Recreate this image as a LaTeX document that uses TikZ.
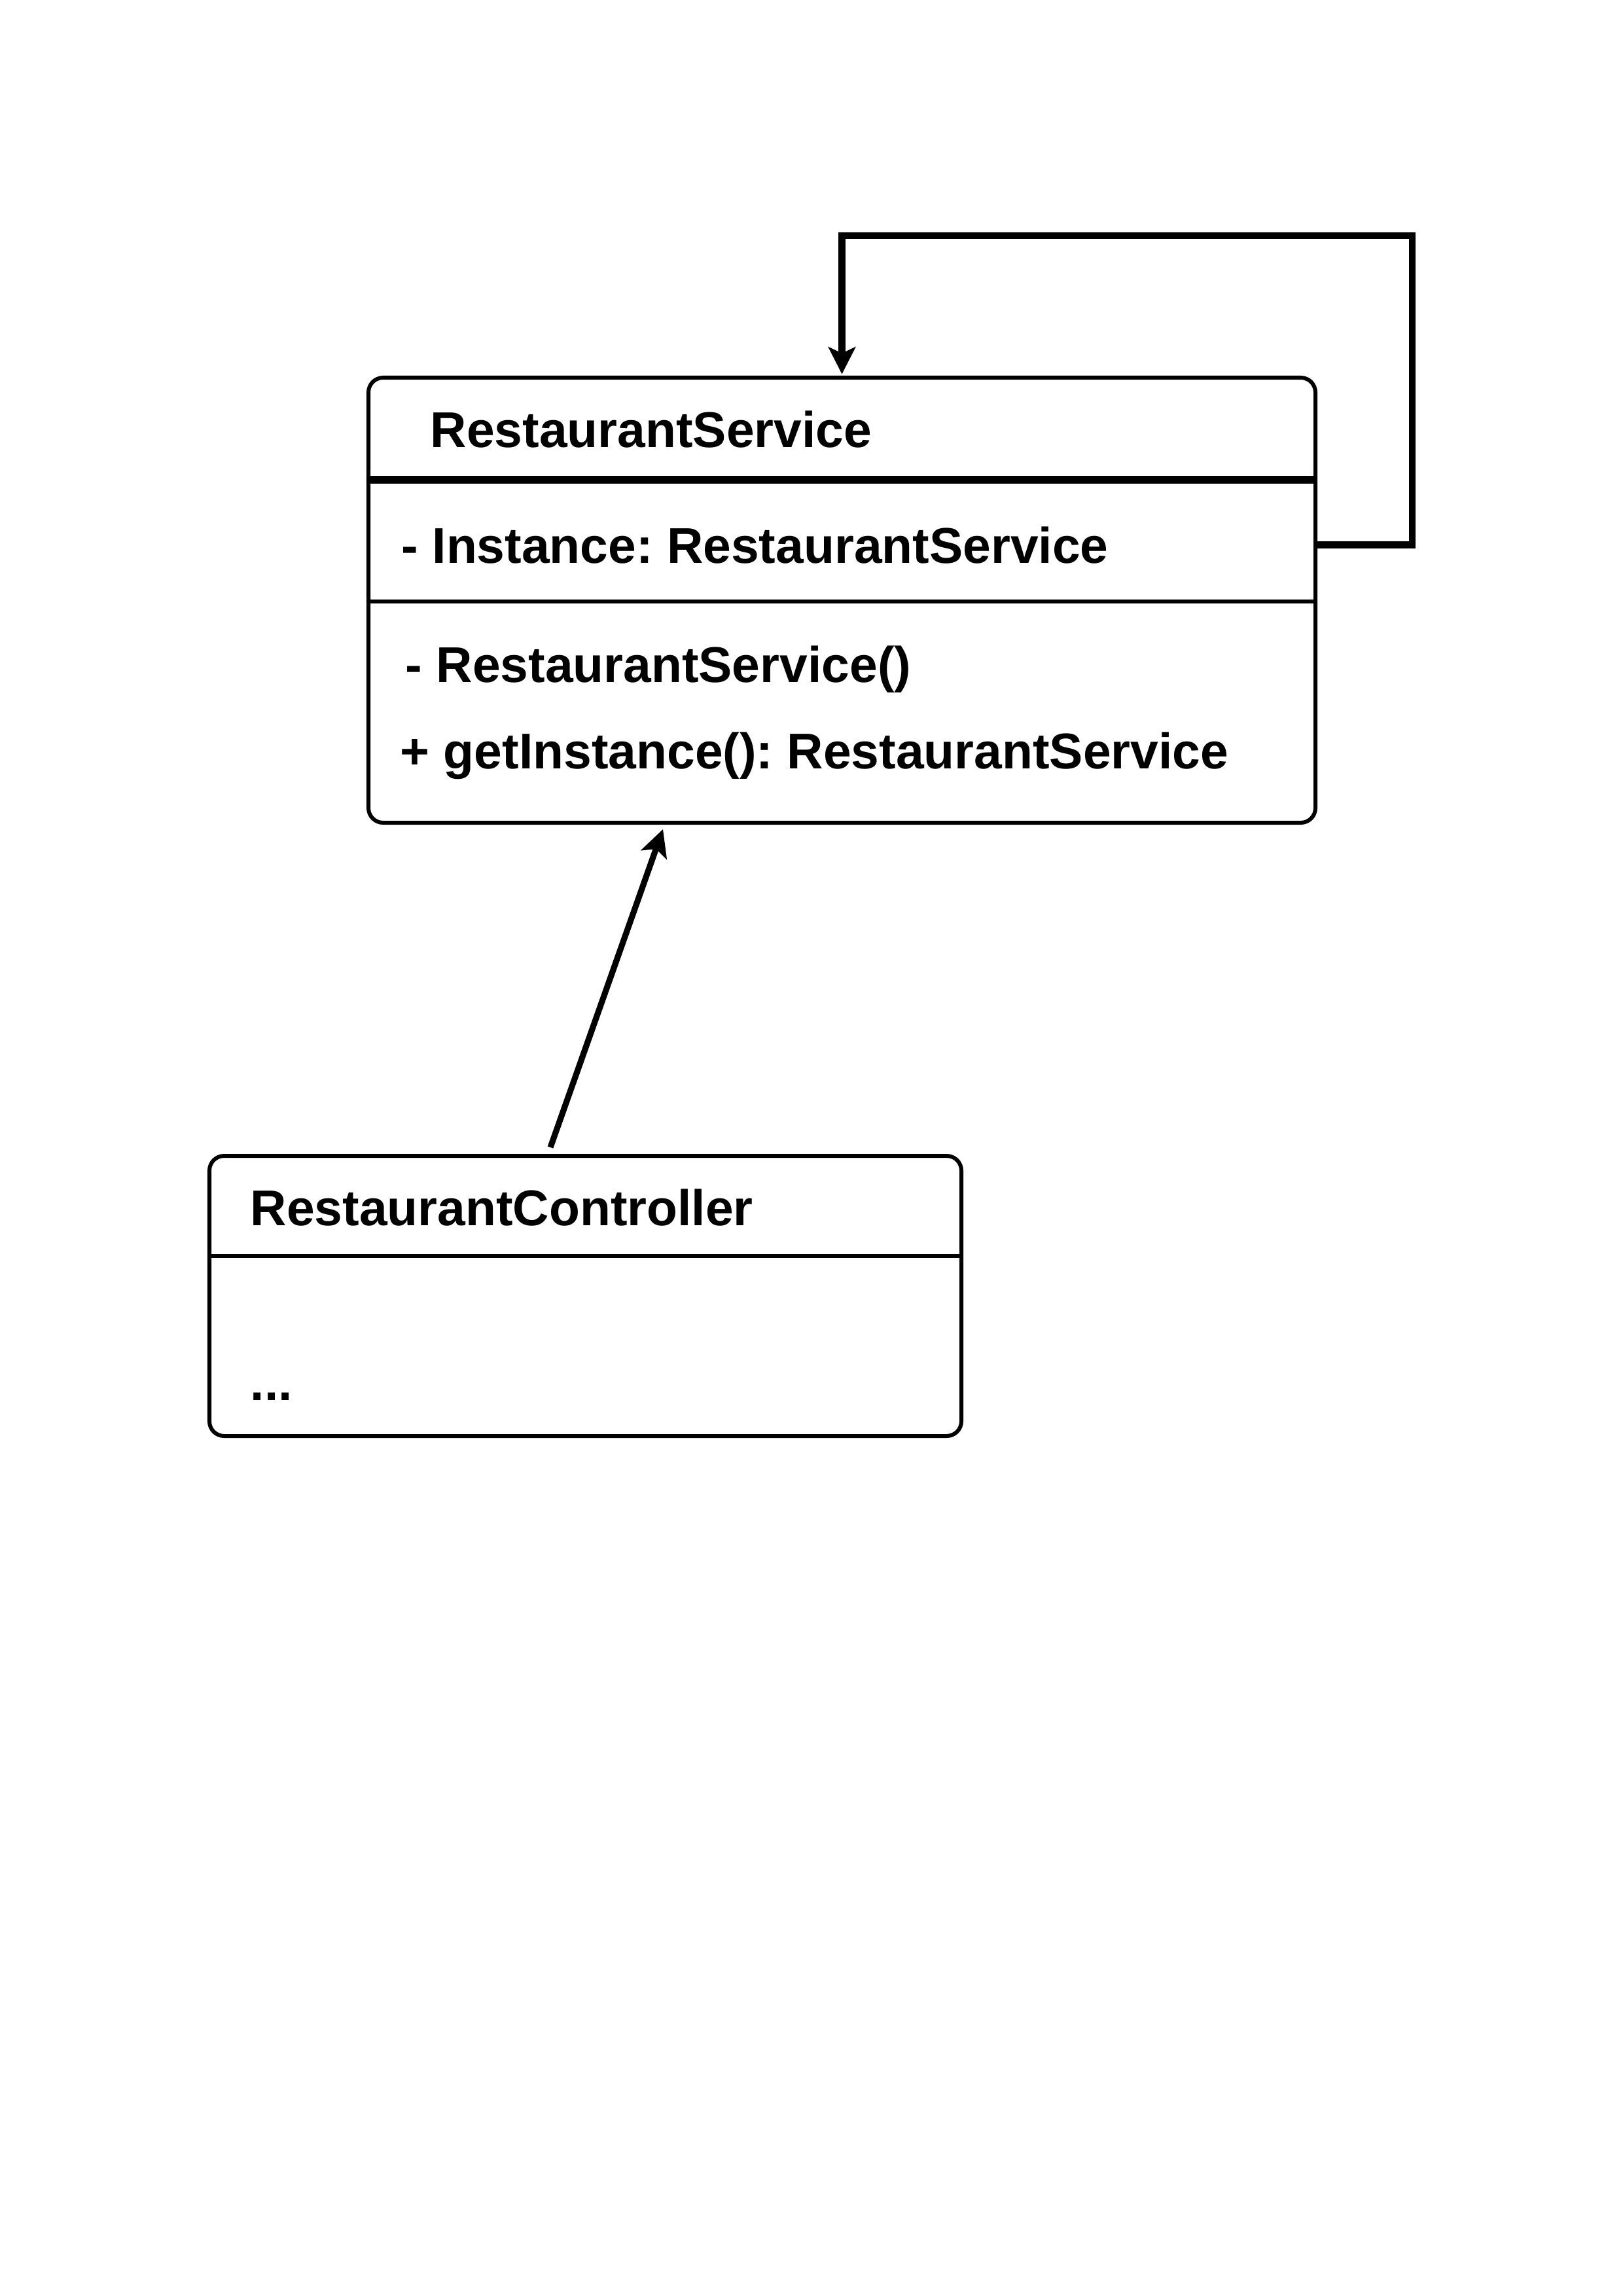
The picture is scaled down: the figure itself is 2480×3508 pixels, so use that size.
\documentclass[tikz,border=0pt]{standalone}
\usepackage{fontspec}
\setmainfont{Liberation Sans}
\usetikzlibrary{arrows.meta}
\frenchspacing
\begin{document}
\begin{tikzpicture}[x=0.084677mm,y=-0.084677mm,
  umlbox/.style={draw,line width=1.45pt,rounded corners=1.9mm,inner sep=0pt,fill=none},
  lbl/.style={anchor=base west,inner sep=0pt,font=\fontsize{18.5}{22}\selectfont\bfseries},
  conn/.style={line width=2.5pt,-{Stealth[length=3.5mm,width=3.5mm,inset=0.8mm]}},
  sep/.style={line width=1.45pt},
  thicksep/.style={line width=2.7pt}]
\useasboundingbox (0,0) rectangle (2480,3508);
% RestaurantService
\node[umlbox,minimum width={1447*0.084677mm},minimum height={680*0.084677mm}] (svc) at (1286.5,917) {};
\node[lbl] (svct) at (657,683) {RestaurantService};
\node[lbl] (inst) at (613,860) {- Instance: RestaurantService};
\node[lbl] (ctor) at (619,1042) {- RestaurantService()};
\node[lbl] (geti) at (611,1174) {+ getInstance(): RestaurantService};
\coordinate (s1) at (563,733);
\coordinate (s2) at (563,919);
\draw[thicksep] (s1 -| svc.west) -- (s1 -| svc.east);
\draw[sep] (s2 -| svc.west) -- (s2 -| svc.east);
% RestaurantController
\node[umlbox,minimum width={1149*0.084677mm},minimum height={428*0.084677mm}] (ctl) at (894.5,1980) {};
\node[lbl] (ctlt) at (382,1872) {RestaurantController};
\node[lbl] (dots) at (382,2139) {...};
\coordinate (s3) at (320,1919);
\draw[sep] (s3 -| ctl.west) -- (s3 -| ctl.east);
% self loop
\coordinate (c1) at (2158,360);
\coordinate (c2) at (1286.5,360);
\draw[conn,line width=2.6pt] (svc.east |- inst.west) -| (c1) -- (c2) -- ([yshift=0.2mm]svc.north);
% dependency arrow
\coordinate (a1) at (841,1753);
\coordinate (a2) at (1013,1267);
\draw[conn,line width=2.2pt] (a1) -- (a2);
\end{tikzpicture}
\end{document}
